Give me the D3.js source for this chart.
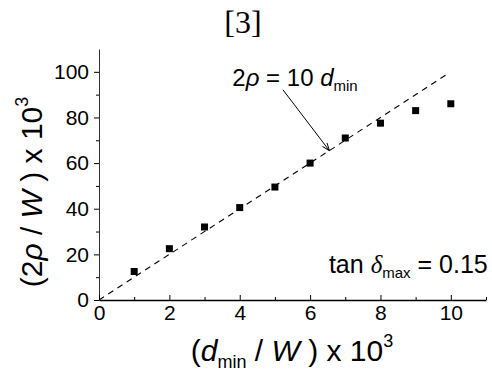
<!DOCTYPE html>
<html>
<head>
<meta charset="utf-8">
<script src="https://cdn.jsdelivr.net/npm/d3@7"></script>
<style>
  body { margin: 0; background: #fff; }
  svg { display: block; }
</style>
</head>
<body>
<div id="chart"></div>
<script>
// measured points (d_min/W x 1e3, 2rho/W x 1e3)
const dminValues = [1, 2, 3, 4, 5, 6, 7, 8, 9, 10];
const rhoValues = [12.5, 22.5, 32, 40.5, 49.5, 60, 71, 77.5, 83, 86];
// fitted line 2rho = 10 dmin
const fitX = [0, 9.85];
const fitY = [0, 98.5];
const xTicks = [0, 2, 4, 6, 8, 10];
const xMinorTicks = [1, 3, 5, 7, 9, 11];
const yTicks = [0, 20, 40, 60, 80, 100];
const yMinorTicks = [10, 30, 50, 70, 90];
// annotation anchors, data units
const arrowFrom = [5.23, 92.1];
const arrowTo = [6.54, 65.6];
const fitLabelAt = [3.79, 94];
const tanLabelAt = [11.05, 11.8];

const width = 492, height = 380;
const margin = { top: 49, right: 6, bottom: 80, left: 99 };

const svg = d3.select("#chart").append("svg")
  .attr("width", width)
  .attr("height", height)
  .style("font-family", "'Liberation Sans', Arial, sans-serif");

svg.append("rect").attr("width", width).attr("height", height).attr("fill", "#fff");

const x = d3.scaleLinear().domain([0, 11]).range([margin.left, width - margin.right]);
const y = d3.scaleLinear().domain([0, 110]).range([height - margin.bottom, margin.top]);

svg.append("defs").append("marker")
  .attr("id", "arrowhead")
  .attr("viewBox", "0 0 10 10")
  .attr("refX", 9).attr("refY", 5)
  .attr("markerWidth", 8).attr("markerHeight", 8)
  .attr("orient", "auto")
  .append("path")
  .attr("d", "M0,1.5 L10,5 L0,8.5")
  .attr("fill", "none")
  .attr("stroke", "#000")
  .attr("stroke-width", 1.2);

// title
svg.append("text")
  .attr("x", 243).attr("y", 33)
  .attr("text-anchor", "middle")
  .style("font-family", "'Liberation Serif', 'Times New Roman', serif")
  .style("font-size", "32px")
  .text("[3]");

// dashed fit line
const line = d3.line().x(d => x(d[0])).y(d => y(d[1]));
svg.append("path")
  .datum(fitX.map((v, i) => [v, fitY[i]]))
  .attr("fill", "none")
  .attr("stroke", "#000")
  .attr("stroke-width", 1.1)
  .attr("stroke-dasharray", "6,5")
  .attr("d", line);

// points
svg.append("g").selectAll("rect")
  .data(dminValues.map((v, i) => [v, rhoValues[i]]))
  .join("rect")
  .attr("x", d => x(d[0]) - 3.5)
  .attr("y", d => y(d[1]) - 3.5)
  .attr("width", 7)
  .attr("height", 7)
  .attr("fill", "#000");

// axes
const yAxis = svg.append("g")
  .attr("transform", `translate(${margin.left},0)`)
  .call(d3.axisLeft(y).tickValues(yTicks).tickSize(5).tickSizeOuter(0).tickPadding(5));
svg.append("g")
  .attr("transform", `translate(${margin.left},0)`)
  .call(d3.axisLeft(y).tickValues(yMinorTicks).tickSize(3).tickSizeOuter(0).tickFormat(""))
  .call(g => g.select(".domain").remove());
yAxis.select(".domain").attr("stroke", "#333");
yAxis.selectAll("text").style("font-size", "21px").attr("fill", "#000");

const xAxis = svg.append("g")
  .attr("transform", `translate(0,${y(0)})`)
  .call(d3.axisBottom(x).tickValues(xTicks).tickSize(-5).tickSizeOuter(0).tickPadding(5));
svg.append("g")
  .attr("transform", `translate(0,${y(0)})`)
  .call(d3.axisBottom(x).tickValues(xMinorTicks).tickSize(-3).tickSizeOuter(0).tickFormat(""))
  .call(g => g.select(".domain").remove());
xAxis.select(".domain").attr("stroke-width", 1.5);
xAxis.selectAll("text").style("font-size", "21px").attr("fill", "#000");

// axis titles
const xt = svg.append("text")
  .attr("x", 292).attr("y", 361)
  .attr("text-anchor", "middle")
  .style("font-size", "30px");
xt.append("tspan").text("(");
xt.append("tspan").style("font-style", "italic").text("d");
xt.append("tspan").attr("dy", 7).style("font-size", "18px").text("min");
xt.append("tspan").attr("dy", -7).text(" / ");
xt.append("tspan").style("font-style", "italic").text("W");
xt.append("tspan").text(" ) x 10");
xt.append("tspan").attr("dy", -14).style("font-size", "18px").text("3");

const yt = svg.append("text")
  .attr("transform", "translate(42,192) rotate(-90)")
  .attr("text-anchor", "middle")
  .style("font-size", "30px");
yt.append("tspan").text("(2");
yt.append("tspan").style("font-style", "italic").text("ρ");
yt.append("tspan").text(" / ");
yt.append("tspan").style("font-style", "italic").text("W");
yt.append("tspan").text(" ) x 10");
yt.append("tspan").attr("dy", -14).style("font-size", "18px").text("3");

// annotation: fit line label and arrow
const fl = svg.append("text")
  .attr("x", x(fitLabelAt[0])).attr("y", y(fitLabelAt[1]))
  .style("font-size", "24px");
fl.append("tspan").text("2");
fl.append("tspan").style("font-style", "italic").text("ρ");
fl.append("tspan").text(" = 10 ");
fl.append("tspan").style("font-style", "italic").text("d");
fl.append("tspan").attr("dy", 5).style("font-size", "15px").text("min");

svg.append("line")
  .attr("x1", x(arrowFrom[0])).attr("y1", y(arrowFrom[1]))
  .attr("x2", x(arrowTo[0])).attr("y2", y(arrowTo[1]))
  .attr("stroke", "#000")
  .attr("stroke-width", 1)
  .attr("marker-end", "url(#arrowhead)");

// tan delta label
const tl = svg.append("text")
  .attr("x", x(tanLabelAt[0])).attr("y", y(tanLabelAt[1]))
  .attr("text-anchor", "end")
  .style("font-size", "25px");
tl.append("tspan").text("tan ");
tl.append("tspan")
  .style("font-family", "'Liberation Serif', 'Times New Roman', serif")
  .style("font-style", "italic")
  .text("δ");
tl.append("tspan").attr("dy", 5).style("font-size", "15px").text("max");
tl.append("tspan").attr("dy", -5).text(" = 0.15");
</script>
</body>
</html>
